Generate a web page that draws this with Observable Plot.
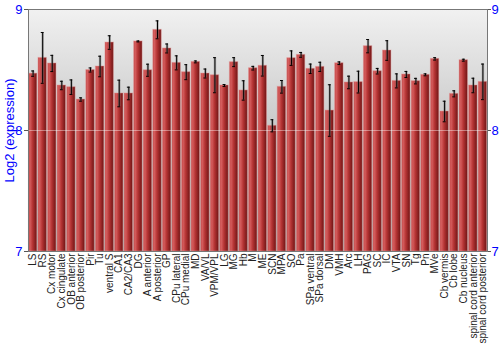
<!DOCTYPE html>
<html>
<head>
<meta charset="utf-8">
<script src="https://cdn.jsdelivr.net/npm/d3@7"></script>
<script src="https://cdn.jsdelivr.net/npm/@observablehq/plot@0.6"></script>
<style>
  body { margin: 0; background: white; }
</style>
</head>
<body>
<div id="chart"></div>
<script>
const categories = ["LS","RS","Cx motor","Cx cingulate","OB anterior","OB posterior","Pir","Tu","ventral S","CA1","CA2/CA3","DG","A anterior","A posterior","GP","CPu lateral","CPu medial","MD","VA/VL","VPM/VPL","LG","MG","Hb","M","ME","SCN","MPA","SO","Pa","SPa ventral","SPa dorsal","DM","VMH","Arc","LH","PAG","SC","IC","VTA","SN","Tg","Pn","MVe","Cb vermis","Cb lobe","Cb nucleus","spinal cord anterior","spinal cord posterior"];
const values = [8.47,8.60,8.554,8.372,8.358,8.256,8.50,8.529,8.727,8.306,8.306,8.736,8.498,8.832,8.678,8.559,8.482,8.567,8.471,8.457,8.372,8.565,8.331,8.515,8.535,8.039,8.361,8.598,8.625,8.51,8.526,8.165,8.556,8.397,8.40,8.697,8.49,8.661,8.41,8.463,8.408,8.46,8.592,8.157,8.303,8.581,8.372,8.402];
const errors = [0.022,0.21,0.067,0.035,0.06,0.014,0.017,0.085,0.056,0.11,0.052,0.004,0.05,0.074,0.037,0.058,0.062,0.008,0.037,0.145,0.008,0.037,0.08,0.015,0.085,0.05,0.052,0.06,0.02,0.039,0.038,0.213,0.011,0.052,0.09,0.055,0.023,0.081,0.058,0.025,0.023,0.008,0.01,0.085,0.025,0.008,0.06,0.147];
const yTicks = [7, 8, 9];

const data = categories.map((c, i) => ({region: c, value: values[i], err: errors[i]}));

const chart = Plot.plot({
  width: 500,
  height: 350,
  marginLeft: 28,
  marginRight: 13,
  marginTop: 9,
  marginBottom: 99,
  style: {background: "white", fontFamily: "'Liberation Sans', Arial, sans-serif"},
  x: {domain: categories, paddingInner: 0.12, paddingOuter: 0.04, insetLeft: 0, insetRight: 0, round: false, label: null},
  y: {domain: [7, 9], label: null},
  marks: [
    Plot.frame({fill: "url(#bgGrad)"}),
    Plot.barY(data, {x: "region", y1: 7, y2: "value", fill: "url(#barGrad)", stroke: "#e59a9a", strokeOpacity: 0.45}),
    Plot.ruleY([8], {stroke: "white", strokeOpacity: 0.4}),
    Plot.ruleX(data, {x: "region", y1: d => d.value - d.err, y2: d => d.value + d.err, stroke: "#777", strokeWidth: 2.5, strokeOpacity: 0.5}),
    Plot.ruleX(data, {x: "region", y1: d => d.value - d.err, y2: d => d.value + d.err, stroke: "black", strokeWidth: 1}),
    Plot.tickY(data, {x: "region", y: d => d.value + d.err, stroke: "black", insetLeft: 2.8, insetRight: 2.8}),
    Plot.tickY(data, {x: "region", y: d => d.value - d.err, stroke: "black", insetLeft: 2.8, insetRight: 2.8}),
    Plot.axisX({tickRotate: -90, tickSize: 0, tickPadding: 2, fontSize: 10, fill: "#222", label: null}),
    Plot.axisY({anchor: "left", ticks: yTicks, tickFormat: d3.format("d"), tickSize: 4, tickPadding: 2, fontSize: 13, color: "blue",
      label: "Log2 (expression)", labelAnchor: "center", labelOffset: 24, labelArrow: "none"}),
    Plot.axisY({anchor: "right", ticks: yTicks, tickFormat: d3.format("d"), tickSize: 3, tickPadding: 1, fontSize: 13, color: "blue", label: null}),
    Plot.frame({stroke: "#777"})
  ]
});

const svg = d3.select(chart);
svg.insert("defs", ":first-child").html(`
  <linearGradient id="bgGrad" x1="0" y1="0" x2="0" y2="1">
    <stop offset="0" stop-color="#f1f1f1"/>
    <stop offset="0.5" stop-color="#c8c8c8"/>
    <stop offset="1" stop-color="#a8a8a8"/>
  </linearGradient>
  <linearGradient id="barGrad" x1="0" y1="0" x2="1" y2="0">
    <stop offset="0" stop-color="#c24444"/>
    <stop offset="0.2" stop-color="#d45c5c"/>
    <stop offset="0.5" stop-color="#b53434"/>
    <stop offset="1" stop-color="#6e1414"/>
  </linearGradient>
`);
svg.selectAll('[aria-label="y-axis tick"]').attr("stroke", "#555");

document.getElementById("chart").appendChild(chart);
</script>
</body>
</html>
